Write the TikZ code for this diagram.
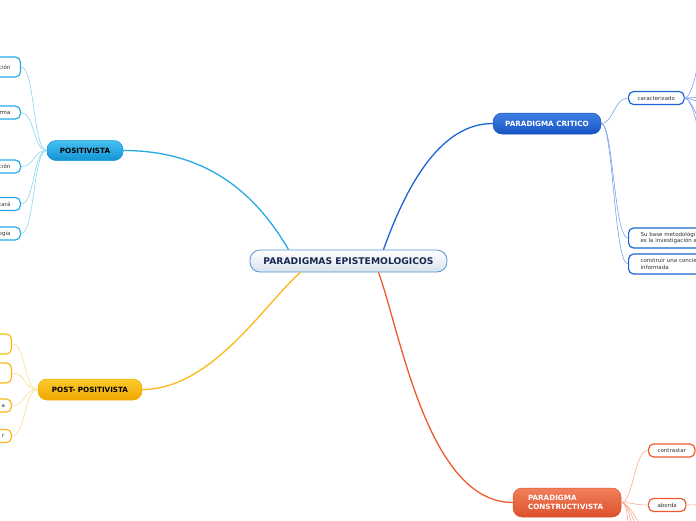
\documentclass[tikz,border=0pt]{standalone}
\usepackage{fontspec}
\setmainfont{DejaVu Sans}
\usepackage{tikz}
\definecolor{rootfill}{RGB}{216,226,237}
\definecolor{rootedge}{RGB}{78,150,215}
\definecolor{rootink}{RGB}{25,40,80}
\definecolor{poslight}{RGB}{70,192,242}
\definecolor{posdark}{RGB}{18,148,212}
\definecolor{posline}{RGB}{38,170,228}
\definecolor{poslink}{RGB}{140,212,242}
\definecolor{critlight}{RGB}{62,128,228}
\definecolor{critdark}{RGB}{24,84,196}
\definecolor{critline}{RGB}{28,100,214}
\definecolor{critlink}{RGB}{122,162,236}
\definecolor{postlight}{RGB}{252,202,45}
\definecolor{postdark}{RGB}{238,168,0}
\definecolor{postline}{RGB}{249,184,25}
\definecolor{postlink}{RGB}{252,220,140}
\definecolor{conslight}{RGB}{242,128,92}
\definecolor{consdark}{RGB}{220,80,44}
\definecolor{consline}{RGB}{238,90,46}
\definecolor{conslink}{RGB}{248,172,148}

\begin{document}
\begin{tikzpicture}[x=1pt, y=-1pt,
    root/.style={rectangle, rounded corners=10pt, draw=rootedge, line width=0.8pt, top color=white, bottom color=rootfill, minimum width=197pt, minimum height=22pt, text=rootink, font=\fontsize{9.2}{11}\selectfont\bfseries},
    branch/.style={rectangle, rounded corners=9pt, line width=0.5pt, minimum height=21pt, font=\fontsize{7.2}{9}\selectfont\bfseries},
    topic/.style={rectangle, rounded corners=5pt, draw, line width=1.2pt, fill=white, minimum height=13pt, inner xsep=9pt, text=black!80, font=\fontsize{5.5}{6.5}\selectfont},
    cut/.style={text width=40pt, inner xsep=10pt, align=right, anchor=east},
    link/.style={line width=0.6pt},
    limb/.style={line width=1.3pt}]

\useasboundingbox (0,0) rectangle (696,520);
\clip (0,0) rectangle (696,520);

\node[root] (root) at (348.5,261) {PARADIGMAS EPISTEMOLOGICOS};
\node[branch, top color=poslight, bottom color=posdark, draw=posdark, minimum width=76pt, minimum height=20pt] (pos) at (85,150.5) {POSITIVISTA};
\node[branch, top color=critlight, bottom color=critdark, draw=critdark, text=white, minimum width=108pt] (crit) at (547,123.5) {PARADIGMA CRITICO};
\node[branch, top color=postlight, bottom color=postdark, draw=postdark, minimum width=104pt] (post) at (90,389.5) {POST- POSITIVISTA};
\node[branch, top color=conslight, bottom color=consdark, draw=consdark, text=white, text width=78pt, inner xsep=15pt, align=left, minimum height=29pt] (cons) at (567,502.5) {PARADIGMA\\CONSTRUCTIVISTA};

\node[topic, cut, draw=posline, minimum height=20pt] (p1) at (21,67) {ción};
\node[topic, cut, draw=posline] (p2) at (21,112.5) {rma};
\node[topic, cut, draw=posline] (p3) at (21,166.5) {ción};
\node[topic, cut, draw=posline] (p4) at (21,204) {tará};
\node[topic, cut, draw=posline] (p5) at (21,233.5) {ogía};

\node[topic, cut, draw=postline, minimum height=20pt] (q1) at (12,344) {};
\node[topic, cut, draw=postline, minimum height=20pt] (q2) at (12,373) {};
\node[topic, cut, draw=postline, inner xsep=6.5pt] (q3) at (12,405.5) {a};
\node[topic, cut, draw=postline, inner xsep=7pt] (q4) at (12,436) {r};

\node[topic, draw=critline, anchor=west] (c1) at (628,98) {caracterizado};
\node[topic, draw=critline, anchor=west, text width=80pt, inner xsep=12pt, align=left, minimum height=20pt] (c2) at (628,238) {Su base metodológi\\es la investigación a};
\node[topic, draw=critline, anchor=west, text width=80pt, inner xsep=12pt, align=left, minimum height=20pt] (c3) at (628,264) {construir una concie\\informada};

\node[topic, draw=consline, anchor=west] (k1) at (648,450.5) {contrastar};
\node[topic, draw=consline, anchor=west] (k2) at (648,505) {aborda};

\coordinate (e1) at (702,15);
\coordinate (e2) at (720,96);
\coordinate (e3) at (720,108);
\coordinate (e4) at (712,135);
\coordinate (e5) at (702,172);
\coordinate (f1) at (720,449);
\coordinate (f2) at (720,504);
\coordinate (g1) at (628,560);
\coordinate (g2) at (634,560);
\coordinate (g3) at (640,560);
\coordinate (g4) at (647,560);

\draw[limb, posline] ([xshift=-60pt]root.north) .. controls +(-35,-60) and +(80,0) .. (pos.east);
\draw[limb, critline] ([xshift=35pt]root.north) .. controls +(25,-70) and +(-50,0) .. (crit.west);
\draw[limb, postline] ([xshift=-48pt]root.south) .. controls +(-35,30) and +(70,0) .. (post.east);
\draw[limb, consline] ([xshift=30pt]root.south) .. controls +(22,60) and +(-85,0) .. (cons.west);

\foreach \n in {p1,p2,p3,p4,p5}
  \draw[link, poslink] (pos.west) .. controls +(-14,0) and +(14,0) .. (\n.east);
\foreach \n in {q1,q2,q3,q4}
  \draw[link, postlink] (post.west) .. controls +(-14,0) and +(14,0) .. (\n.east);
\foreach \n in {c1,c2,c3}
  \draw[link, critlink] (crit.east) .. controls +(12,0) and +(-14,0) .. (\n.west);
\foreach \n in {k1,k2}
  \draw[link, conslink] (cons.east) .. controls +(12,0) and +(-14,0) .. (\n.west);

\draw[link, critlink] (c1.east) .. controls +(8,0) and +(0,40) .. (e1);
\foreach \n in {e2,e3,e4}
  \draw[link, critlink] (c1.east) .. controls +(8,0) and +(-10,0) .. (\n);
\draw[link, critlink] (c1.east) .. controls +(8,0) and +(0,-35) .. (e5);
\draw[link, conslink] (k1.east) -- (f1);
\draw[link, conslink] (k2.east) .. controls +(8,0) and +(-10,0) .. (f2);
\foreach \n in {g1,g2,g3,g4}
  \draw[link, conslink] (cons.east) .. controls +(8,0) and +(0,-30) .. (\n);
\end{tikzpicture}
\end{document}
